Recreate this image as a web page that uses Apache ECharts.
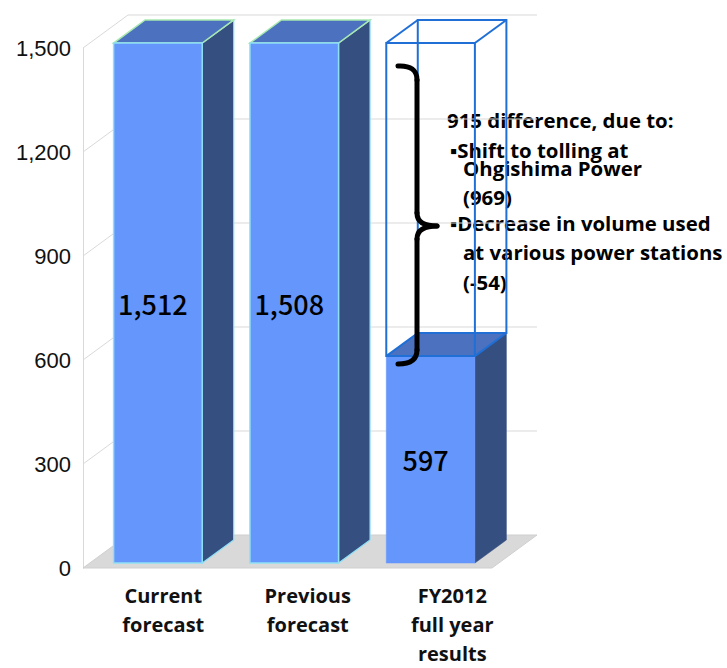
<!DOCTYPE html>
<html><head><meta charset="utf-8">
<script src="https://cdn.jsdelivr.net/npm/echarts/dist/echarts.min.js"></script>
<style>html,body{margin:0;padding:0;background:#fff}#c{width:727px;height:668px}</style>
</head><body><div id="c"></div>
<script>
// ---- data ----
const categories = ['Current\nforecast', 'Previous\nforecast', 'FY2012\nfull year\nresults'];
const values = [1512, 1508, 597];
const gapBase = [null, null, 597];
const gapTop = [null, null, 1512];
const yTicks = [0, 300, 600, 900, 1200, 1500];
const noteTitle = '915 difference, due to:';
const noteLines = [
  '\u25AAShift to tolling at', 'Ohgishima Power', '(969)',
  '\u25AADecrease in volume used', 'at various power stations', '(-54)'
];

// ---- geometry / style (not data) ----
const AX_MAX = 1500;
const DX = 45, DY = -33;       // depth vector of the floor / walls
const T0 = 0.15, T1 = 0.85;    // bar depth span
const BAR_FRAC = 0.65;
const faceEdge = ['#8fe0f5', '#8fe0f5', null];
const topEdge = ['#a8e8b0', '#a8e8b0', null];

const chart = echarts.init(document.getElementById('c'), null, {renderer: 'svg'});

function wallItem(params, api) {
  const cs = params.coordSys;
  const v = api.value(1);
  const p = api.coord([0, v]);
  const y = p[1];
  const gx = cs.x, gw = cs.width;
  const line = {stroke: '#d9d9d9', lineWidth: 1, fill: null};
  const ch = [];
  if (v === 0) {
    ch.push({type: 'polygon', shape: {points: [[gx, y], [gx + gw, y], [gx + gw + DX, y + DY], [gx + DX, y + DY]]},
      style: {fill: '#d9d9d9', stroke: '#cfcfcf', lineWidth: 1}});
  } else {
    ch.push({type: 'polyline', shape: {points: [[gx, y], [gx + DX, y + DY], [gx + gw + DX, y + DY]]}, style: line});
  }
  return {type: 'group', children: ch};
}

function barGeom(api, i, vLow, vHigh) {
  const base = api.coord([i, vLow]);
  const top = api.coord([i, Math.min(vHigh, AX_MAX)]);
  const band = api.size([1, 0])[0];
  const bw = band * BAR_FRAC;
  const x0 = base[0] - bw / 2 + DX * T0, x1 = x0 + bw;
  const yb = base[1] + DY * T0, yt = top[1] + DY * T0;
  const ddx = DX * (T1 - T0), ddy = DY * (T1 - T0);
  return {x0, x1, yb, yt, ddx, ddy};
}

function barItem(params, api) {
  const i = api.value(0), v = api.value(1);
  const g = barGeom(api, i, 0, v);
  const {x0, x1, yb, yt, ddx, ddy} = g;
  const fe = faceEdge[i], te = topEdge[i];
  return {type: 'group', children: [
    {type: 'polygon', shape: {points: [[x1, yt], [x1 + ddx, yt + ddy], [x1 + ddx, yb + ddy], [x1, yb]]},
      style: {fill: '#344f80', stroke: fe || '#344f80', lineWidth: fe ? 1.2 : 0.5}},
    {type: 'polygon', shape: {points: [[x0, yt], [x1, yt], [x1 + ddx, yt + ddy], [x0 + ddx, yt + ddy]]},
      style: {fill: '#4b71bf', stroke: te || '#4b71bf', lineWidth: te ? 1.5 : 0.5}},
    {type: 'rect', shape: {x: x0, y: yt, width: x1 - x0, height: yb - yt},
      style: {fill: '#6496fb', stroke: fe || '#6496fb', lineWidth: fe ? 1.5 : 0.5}},
    {type: 'text', x: (x0 + x1) / 2 - 5, y: (yt + yb) / 2,
      style: {text: v.toLocaleString('en-US'), fill: '#000', font: '500 27px "Noto Sans CJK JP"', align: 'center', verticalAlign: 'middle'}}
  ]};
}

function gapItem(params, api) {
  const i = api.value(0), lo = api.value(1), hi = api.value(2);
  const g = barGeom(api, i, lo, hi);
  const {x0, x1, yb, yt, ddx, ddy} = g;
  const st = {stroke: '#1f6fd6', lineWidth: 2, fill: null};
  return {type: 'group', children: [
    {type: 'rect', shape: {x: x0 + ddx, y: yt + ddy, width: x1 - x0, height: yb - yt}, style: st},
    {type: 'line', shape: {x1: x0, y1: yt, x2: x0 + ddx, y2: yt + ddy}, style: st},
    {type: 'line', shape: {x1: x1, y1: yt, x2: x1 + ddx, y2: yt + ddy}, style: st},
    {type: 'line', shape: {x1: x0, y1: yb, x2: x0 + ddx, y2: yb + ddy}, style: st},
    {type: 'line', shape: {x1: x1, y1: yb, x2: x1 + ddx, y2: yb + ddy}, style: st},
    {type: 'rect', shape: {x: x0, y: yt, width: x1 - x0, height: yb - yt}, style: st}
  ]};
}

const noteFont = 'bold 20.4px "Open Sans"';
const noteY = [150, 168, 197, 223, 252, 282];
const noteX = [450, 463, 463, 450, 463, 463];
const graphics = [
  {type: 'text', x: 447, y: 120, z: 1, style: {text: noteTitle, font: noteFont, fill: '#000', verticalAlign: 'middle'}}
];
noteLines.forEach((t, k) => graphics.push({type: 'text', x: noteX[k], y: noteY[k], z: 1,
  style: {text: t, font: noteFont, fill: '#000', verticalAlign: 'middle'}}));
const brace = {stroke: '#000', lineWidth: 5, fill: null, lineCap: 'round'};
graphics.push(
  {type: 'bezierCurve', z: 20, shape: {x1: 398, y1: 66, cpx1: 417, cpy1: 65, x2: 417, y2: 80}, style: brace},
  {type: 'line', z: 20, shape: {x1: 417, y1: 80, x2: 417, y2: 213}, style: brace},
  {type: 'bezierCurve', z: 20, shape: {x1: 417, y1: 213, cpx1: 417, cpy1: 226, x2: 437, y2: 226}, style: brace},
  {type: 'bezierCurve', z: 20, shape: {x1: 437, y1: 226, cpx1: 417, cpy1: 226, x2: 417, y2: 239}, style: brace},
  {type: 'line', z: 20, shape: {x1: 417, y1: 239, x2: 417, y2: 350}, style: brace},
  {type: 'bezierCurve', z: 20, shape: {x1: 417, y1: 350, cpx1: 417, cpy1: 364, x2: 398, y2: 364}, style: brace}
);

chart.setOption({
  animation: false,
  backgroundColor: '#fff',
  grid: [
    {left: 83, right: 235, top: 48, bottom: 100},
    {left: 91, width: 433.5, top: 48, bottom: 100}
  ],
  xAxis: [
    {type: 'category', data: categories, gridIndex: 0,
      axisLine: {show: false}, axisTick: {show: false}, axisLabel: {show: false}},
    {type: 'category', data: categories, gridIndex: 1,
      axisLine: {show: false}, axisTick: {show: false},
      axisLabel: {interval: 0, margin: 21, color: '#111', fontFamily: 'Open Sans', fontWeight: 'bold', fontSize: 20, lineHeight: 29}}
  ],
  yAxis: [
    {type: 'value', gridIndex: 0, min: 0, max: AX_MAX, interval: 300,
      axisLine: {show: true, lineStyle: {color: '#d9d9d9'}}, axisTick: {show: false}, splitLine: {show: false},
      axisLabel: {margin: 12, color: '#111', fontFamily: 'Liberation Sans', fontSize: 22}},
    {type: 'value', gridIndex: 1, min: 0, max: AX_MAX, show: false}
  ],
  graphic: graphics,
  series: [
    {type: 'custom', xAxisIndex: 0, yAxisIndex: 0, z: 1, silent: true,
      data: yTicks.map(v => [0, v]), renderItem: wallItem},
    {type: 'custom', xAxisIndex: 0, yAxisIndex: 0, z: 2,
      data: values.map((v, i) => [i, v]), renderItem: barItem},
    {type: 'custom', xAxisIndex: 0, yAxisIndex: 0, z: 10,
      data: gapBase.map((b, i) => b == null ? null : [i, b, gapTop[i]]).filter(d => d), renderItem: gapItem}
  ]
});
</script></body></html>
